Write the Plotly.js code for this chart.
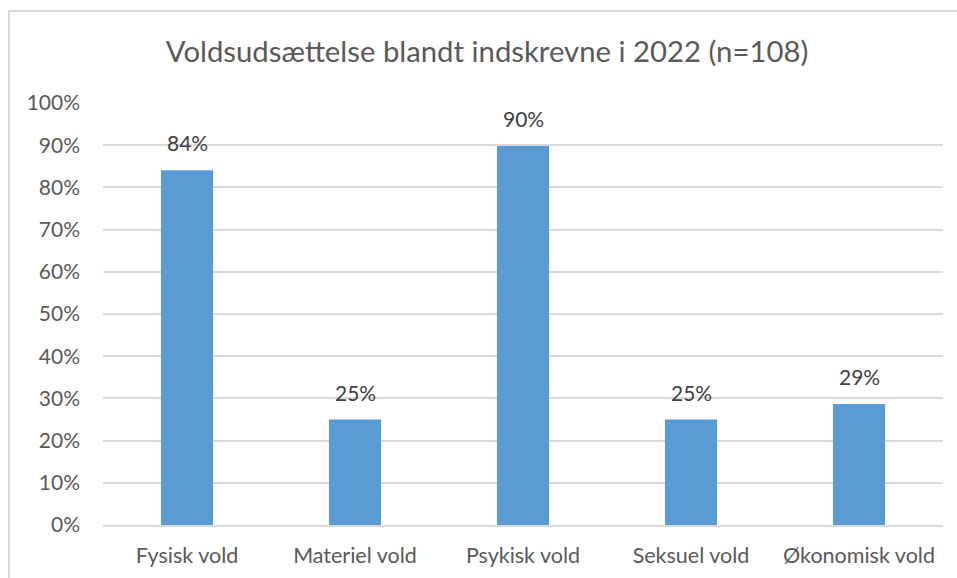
<!DOCTYPE html>
<html>
<head>
<meta charset="utf-8">
<script src="https://cdn.plot.ly/plotly-3.0.1.min.js"></script>
<style>
  html, body { margin: 0; padding: 0; background: #fff; }
  #wrap { position: relative; width: 957px; height: 578px; overflow: hidden; }
  #chart { position: absolute; left: 0; top: 0; width: 957px; height: 578px; }
  #frame { position: absolute; left: 8px; top: 10px; width: 970px; height: 600px;
           border: 2px solid #d9d9d9; pointer-events: none; box-sizing: border-box; }
</style>
</head>
<body>
<div id="wrap">
  <div id="chart"></div>
  <div id="frame"></div>
</div>
<script>
const categories = ["Fysisk vold", "Materiel vold", "Psykisk vold", "Seksuel vold", "Økonomisk vold"];
const values = [0.841, 0.250, 0.898, 0.250, 0.287];
const labels = ["84%", "25%", "90%", "25%", "29%"];
const titleText = "Voldsudsættelse blandt indskrevne i 2022 (n=108)";

const FONT = "Lato, 'Open Sans', sans-serif";
const GRAY = "#595959";

const trace = {
  type: "bar",
  x: categories,
  y: values,
  marker: { color: "#5b9bd5", line: { width: 0 } },
  width: 0.31,
  hoverinfo: "skip"
};

const annotations = categories.map((c, i) => ({
  x: c, y: values[i], xref: "x", yref: "y",
  text: labels[i], showarrow: false,
  yanchor: "bottom", yshift: 13,
  font: { family: FONT, size: 21, color: "#404040" }
}));

const layout = {
  width: 957, height: 578,
  margin: { l: 103, r: 14, t: 103, b: 53 },
  paper_bgcolor: "rgba(0,0,0,0)",
  plot_bgcolor: "#fff",
  showlegend: false,
  title: {
    text: titleText,
    x: 487 / 957, xanchor: "center", xref: "container",
    y: 1 - 52 / 578, yanchor: "middle", yref: "container",
    font: { family: FONT, size: 29.3, color: GRAY }
  },
  xaxis: {
    type: "category",
    showgrid: false,
    showline: true, linecolor: "#d9d9d9", linewidth: 2,
    ticks: "", ticklen: 0, ticklabelstandoff: 10,
    tickfont: { family: FONT, size: 21.5, color: GRAY },
    fixedrange: true
  },
  yaxis: {
    range: [0, 1.0001],
    tickvals: [0, 0.1, 0.2, 0.3, 0.4, 0.5, 0.6, 0.7, 0.8, 0.9, 1.0],
    tickformat: ".0%",
    showgrid: true, gridcolor: "#d9d9d9", gridwidth: 2,
    zeroline: false, showline: false,
    ticks: "", ticklabelstandoff: 22,
    tickfont: { family: FONT, size: 21, color: GRAY },
    fixedrange: true
  },
  annotations: annotations
};

Plotly.newPlot("chart", [trace], layout, { displayModeBar: false, staticPlot: true });
</script>
</body>
</html>
